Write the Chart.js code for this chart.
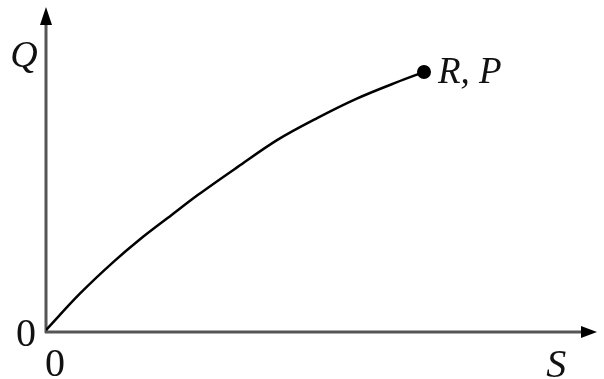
<!DOCTYPE html>
<html>
<head>
<meta charset="utf-8">
<script src="https://cdn.jsdelivr.net/npm/chart.js@4/dist/chart.umd.min.js"></script>
<style>
  html, body { margin: 0; padding: 0; background: #fff; }
  #wrap { position: relative; width: 604px; height: 379px; overflow: hidden; }
  #chart { position: absolute; left: 0; top: 0; }
  .lbl {
    position: absolute;
    font-family: "Liberation Serif", "Times New Roman", Times, "DejaVu Serif", "Noto Serif", serif;
    line-height: 1;
    color: #111;
    white-space: nowrap;
  }
  .it { font-style: italic; }
</style>
</head>
<body>
<div id="wrap">
  <canvas id="chart" width="604" height="379"></canvas>
  <span class="lbl it" id="yName"></span>
  <span class="lbl it" id="xName"></span>
  <span class="lbl" id="yZero"></span>
  <span class="lbl" id="xZero"></span>
  <span class="lbl it" id="endName"></span>
</div>
<script>
// curve (S along x, Q along y, axis range 0..10)
const sValues = [0, 0.61, 1.24, 1.69, 2.28, 2.76, 3.48, 4.2, 4.92, 5.64, 6.36, 6.86]
const qValues = [0.06, 1.17, 2.18, 2.83, 3.6, 4.22, 5.08, 5.91, 6.58, 7.18, 7.68, 8.0]
const axisMax = 10
const endLabel = "R, P"
const xLabel = "S"
const yLabel = "Q"
const originLabel = "0"

const points = sValues.map((s, i) => ({ x: s, y: qValues[i] }))
const radii = points.map((p, i) => (i === points.length - 1 ? 7 : 0))

const axesPlugin = {
  id: "axesArrows",
  beforeDatasetsDraw(chart) {
    const ctx = chart.ctx
    const xs = chart.scales.x
    const ys = chart.scales.y
    const x0 = xs.getPixelForValue(0)
    const y0 = ys.getPixelForValue(0)
    const xEnd = xs.getPixelForValue(axisMax)
    const yEnd = ys.getPixelForValue(axisMax)
    ctx.save()
    ctx.strokeStyle = "#555"
    ctx.lineWidth = 3
    ctx.beginPath()
    ctx.moveTo(x0, y0 + 1)
    ctx.lineTo(x0, yEnd + 14)
    ctx.moveTo(x0 - 1, y0)
    ctx.lineTo(xEnd - 12, y0)
    ctx.stroke()
    // arrow heads
    ctx.fillStyle = "#000"
    ctx.beginPath()
    ctx.moveTo(x0, yEnd)
    ctx.lineTo(x0 - 6, yEnd + 18)
    ctx.lineTo(x0 + 6, yEnd + 18)
    ctx.closePath()
    ctx.fill()
    ctx.beginPath()
    ctx.moveTo(xEnd, y0)
    ctx.lineTo(xEnd - 16, y0 - 6)
    ctx.lineTo(xEnd - 16, y0 + 6)
    ctx.closePath()
    ctx.fill()
    ctx.restore()
  }
}

const chart = new Chart(document.getElementById("chart").getContext("2d"), {
  type: "line",
  data: {
    datasets: [
      {
        data: points,
        borderColor: "#000",
        borderWidth: 2.5,
        backgroundColor: "#000",
        pointRadius: radii,
        pointHoverRadius: radii,
        pointBorderWidth: 0,
        cubicInterpolationMode: "monotone",
        fill: false,
      },
    ],
  },
  options: {
    responsive: false,
    animation: false,
    events: [],
    layout: { padding: { left: 46, top: 7, right: 1, bottom: 47 } },
    plugins: {
      legend: { display: false },
      tooltip: { enabled: false },
    },
    scales: {
      x: { type: "linear", min: 0, max: axisMax, display: false },
      y: { type: "linear", min: 0, max: axisMax, display: false },
    },
  },
  plugins: [axesPlugin],
})

// place text labels (baseline at ~0.84em below the top of a line-height:1 box)
function place(id, text, size, x, baseline, align) {
  const el = document.getElementById(id)
  el.textContent = text
  el.style.fontSize = size + "px"
  el.style.top = (baseline - 0.84 * size) + "px"
  el.style.left = x + "px"
  if (align === "center") el.style.transform = "translateX(-50%)"
}
const xs = chart.scales.x
const ys = chart.scales.y
const x0 = xs.getPixelForValue(0)
const y0 = ys.getPixelForValue(0)
const last = points[points.length - 1]
const px = xs.getPixelForValue(last.x)
const py = ys.getPixelForValue(last.y)
place("yName", yLabel, 38, x0 - 22, 67, "center")
place("xName", xLabel, 40, xs.getPixelForValue(9.26), y0 + 46, "center")
place("yZero", originLabel, 40, x0 - 20, y0 + 15, "center")
place("xZero", originLabel, 40, x0 + 9, y0 + 45, "center")
place("endName", endLabel, 37, px + 14, py + 11, "left")
</script>
</body>
</html>
